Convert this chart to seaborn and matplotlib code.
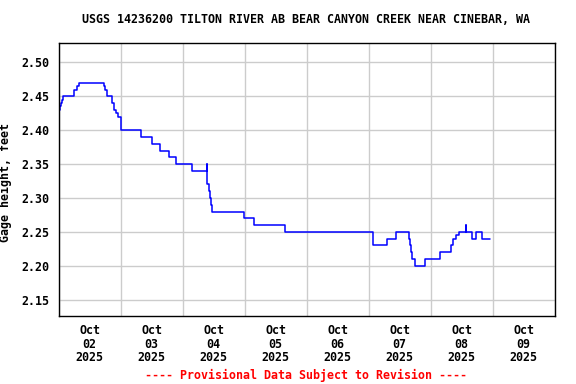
import seaborn as sns
from matplotlib import pyplot as plt
import matplotlib.dates as mdates
import pandas as pd

# gage height change points (hours after 2025-10-02 00:00, feet)
hours = [
    0.0, 0.5, 1.0, 1.25, 1.5, 6.0, 7.25, 7.75, 17.5, 18.0, 18.75, 20.75,
    21.5, 22.25, 22.75, 24.25, 32.0, 36.0, 39.25, 42.75, 45.25, 51.75,
    57.25, 57.5, 58.0, 58.5, 59.0, 59.5, 71.75, 75.5, 87.5, 121.75,
    127.25, 130.75, 135.75, 136.0, 136.25, 136.75, 137.75, 141.75, 147.75,
    151.75, 152.5, 153.75, 155.0, 157.5, 157.75, 160.0, 161.5, 163.75, 167.0,
]
gage = [
    2.43, 2.435, 2.44, 2.445, 2.45, 2.46, 2.465, 2.47, 2.465, 2.46, 2.45, 2.44,
    2.43, 2.425, 2.42, 2.40, 2.39, 2.38, 2.37, 2.36, 2.35, 2.34,
    2.35, 2.32, 2.31, 2.30, 2.29, 2.28, 2.27, 2.26, 2.25, 2.23,
    2.24, 2.25, 2.24, 2.23, 2.22, 2.21, 2.20, 2.21, 2.22,
    2.23, 2.24, 2.245, 2.25, 2.26, 2.25, 2.24, 2.25, 2.24, 2.24,
]
yticks = [2.15, 2.20, 2.25, 2.30, 2.35, 2.40, 2.45, 2.50]
start = pd.Timestamp("2025-10-02")
end = pd.Timestamp("2025-10-10")

title = "USGS 14236200 TILTON RIVER AB BEAR CANYON CREEK NEAR CINEBAR, WA"
ylabel = "Gage height, feet"
footer = "---- Provisional Data Subject to Revision ----"

df = pd.DataFrame({
    "time": start + pd.to_timedelta(hours, unit="h"),
    "gage": gage,
})

sns.set_style("white")
plt.rcParams["font.family"] = ["DejaVu Sans Mono"]
plt.rcParams["font.weight"] = "bold"
plt.rcParams["font.size"] = 8.4
for key in ["text.color", "axes.labelcolor", "xtick.color", "ytick.color"]:
    plt.rcParams[key] = "black"

fig = plt.figure(figsize=(5.76, 3.84), dpi=100)
ax = fig.add_axes([0.102, 0.177, 0.861, 0.710])

sns.lineplot(data=df, x="time", y="gage", ax=ax, color="#0000ff",
             linewidth=1.1, drawstyle="steps-post", estimator=None)

ax.set_xlim(start, end)
ax.set_ylim(2.126, 2.528)
ax.set_yticks(yticks)
ax.set_yticklabels([f"{v:.2f}" for v in yticks], fontweight="bold")

ax.xaxis.set_major_locator(mdates.DayLocator())
ax.xaxis.set_major_formatter(plt.NullFormatter())
ax.xaxis.set_minor_locator(mdates.HourLocator(byhour=[12]))
ax.xaxis.set_minor_formatter(mdates.DateFormatter("%b\n%d\n%Y"))
ax.tick_params(axis="both", which="both", length=0, colors="black")
ax.tick_params(axis="x", which="minor", pad=6)
ax.tick_params(axis="y", pad=7)
for lab in ax.get_xticklabels(minor=True):
    lab.set_linespacing(1.05)
    lab.set_fontweight("bold")

ax.grid(True, which="major", color="#cccccc", linewidth=1)
ax.set_axisbelow(True)
for sp in ax.spines.values():
    sp.set_color("black")
    sp.set_linewidth(1)

ax.set_xlabel("")
ax.set_ylabel(ylabel, fontweight="bold")
ax.yaxis.set_label_coords(-0.094, 0.49)
fig.text(0.532, 0.950, title, ha="center", va="center", fontweight="bold")
fig.text(0.532, 0.021, footer, ha="center", va="center", color="red",
         fontweight="bold")

fig.savefig("out.png", dpi=100)
